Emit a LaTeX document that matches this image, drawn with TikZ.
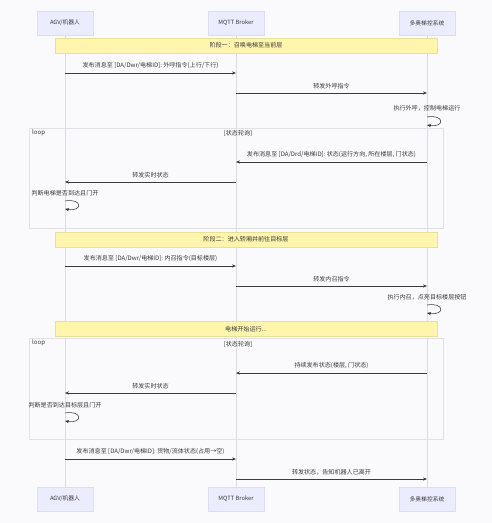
\documentclass[tikz,border=0pt]{standalone}
\usepackage{fontspec}
\setmainfont{Noto Sans CJK SC}
\usetikzlibrary{arrows.meta}
\definecolor{bg}{HTML}{FAFAFC}
\definecolor{actorfill}{HTML}{ECECFF}
\definecolor{actorline}{HTML}{DDDDF0}
\definecolor{notefill}{HTML}{FFF5AD}
\definecolor{noteline}{HTML}{E8E09A}
\definecolor{lifeline}{HTML}{DCDCE2}
\definecolor{txt}{HTML}{3A3A3A}
\definecolor{arrowc}{HTML}{3C3C3C}
\definecolor{loopline}{HTML}{E0E0E8}
\begin{document}
\begin{tikzpicture}[x=1bp,y=-1bp,
 actor/.style={draw=actorline, fill=actorfill, minimum width=56bp, minimum height=24bp, font=\fontsize{5.8}{7}\selectfont, text=txt, inner sep=0},
 note/.style={draw=noteline, fill=notefill, minimum width=382bp, minimum height=15bp, font=\fontsize{6.1}{7}\selectfont, text=txt, inner sep=0},
 lbl/.style={font=\fontsize{6.1}{7}\selectfont, text=txt, inner sep=1bp},
 msg/.style={draw=arrowc, line width=0.6bp, -{Stealth[length=4bp,width=3.2bp]}},
 life/.style={draw=lifeline, line width=0.6bp},
 frame/.style={draw=loopline, line width=0.6bp},
]
\fill[bg] (0,0) rectangle (492,523);
\useasboundingbox (0,0) rectangle (492,523);

% actors
\node[actor] (agvT) at (65,23) {AGV/机器人};
\node[actor] (mqT) at (236,23) {MQTT Broker};
\node[actor] (sysT) at (427,23) {多奥梯控系统};
\node[actor] (agvB) at (65,499) {AGV/机器人};
\node[actor] (mqB) at (236,499) {MQTT Broker};
\node[actor] (sysB) at (427,499) {多奥梯控系统};
\draw[life] (agvT.south) -- (agvB.north);
\draw[life] (mqT.south) -- (mqB.north);
\draw[life] (sysT.south) -- (sysB.north);

% loop frames
\draw[frame] (29,128) rectangle (443,228);
\node[lbl, anchor=north west] (loop1) at (31,128.5) {loop};
\node[lbl] (cond1) at (238,133) {[状态轮询]};
\draw[frame] (29,338) rectangle (443,439);
\node[lbl, anchor=north west] (loop2) at (31,338.5) {loop};
\node[lbl] (cond2) at (238,344) {[状态轮询]};

% phase notes
\node[note] (n1) at (246,45.5) {阶段一：召唤电梯至当前层};
\node[note] (n2) at (246,239.5) {阶段二：进入轿厢并前往目标层};
\node[note] (n3) at (246,329) {电梯开始运行...};

% coordinates
\coordinate (a1) at (65,73);  \coordinate (b1) at (236,73);
\coordinate (b2) at (236,93); \coordinate (c2) at (427,93);
\coordinate (s1a) at (427,117); \coordinate (s1b) at (427,125);
\coordinate (c3) at (427,162); \coordinate (b3) at (236,162);
\coordinate (b4) at (236,182); \coordinate (a4) at (65,182);
\coordinate (s2a) at (65,201); \coordinate (s2b) at (65,209);
\coordinate (a5) at (65,266);  \coordinate (b5) at (236,266);
\coordinate (b6) at (236,286); \coordinate (c6) at (427,286);
\coordinate (s3a) at (427,305); \coordinate (s3b) at (427,313);
\coordinate (c7) at (427,373); \coordinate (b7) at (236,373);
\coordinate (b8) at (236,393); \coordinate (a8) at (65,393);
\coordinate (s4a) at (65,413); \coordinate (s4b) at (65,421);
\coordinate (a9) at (65,459);  \coordinate (b9) at (236,459);
\coordinate (b10) at (236,479); \coordinate (c10) at (427,479);

% messages
\draw[msg] (a1) -- node[lbl, above=3bp] (t1) {发布消息至 [DA/Dwr/电梯ID]: 外呼指令(上行/下行)} (b1);
\draw[msg] (b2) -- node[lbl, above=3bp] (t2) {转发外呼指令} (c2);
\node[lbl] (t3) at (427,108) {执行外呼，控制电梯运行};
\draw[msg] (s1a) .. controls (445,114) and (445,128) .. (s1b);

\draw[msg] (c3) -- node[lbl, above=3bp] (t4) {发布消息至 [DA/Drd/电梯ID]: 状态(运行方向, 所在楼层, 门状态)} (b3);
\draw[msg] (b4) -- node[lbl, above=3bp] (t5) {转发实时状态} (a4);
\node[lbl] (t6) at (65,193) {判断电梯是否到达且门开};
\draw[msg] (s2a) .. controls (83,198) and (83,212) .. (s2b);

\draw[msg] (a5) -- node[lbl, above=3bp] (t7) {发布消息至 [DA/Dwr/电梯ID]: 内召指令(目标楼层)} (b5);
\draw[msg] (b6) -- node[lbl, above=3bp] (t8) {转发内召指令} (c6);
\node[lbl] (t9) at (427,297) {执行内召，点亮目标楼层按钮};
\draw[msg] (s3a) .. controls (445,302) and (445,316) .. (s3b);

\draw[msg] (c7) -- node[lbl, above=3bp] (t10) {持续发布状态(楼层, 门状态)} (b7);
\draw[msg] (b8) -- node[lbl, above=3bp] (t11) {转发实时状态} (a8);
\node[lbl] (t12) at (65,405) {判断是否到达目标层且门开};
\draw[msg] (s4a) .. controls (83,410) and (83,424) .. (s4b);

\draw[msg] (a9) -- node[lbl, above=3bp] (t13) {发布消息至 [DA/Dwr/电梯ID]: 货物/流体状态(占用→空)} (b9);
\draw[msg] (b10) -- node[lbl, above=3bp] (t14) {转发状态，告知机器人已离开} (c10);
\end{tikzpicture}
\end{document}
